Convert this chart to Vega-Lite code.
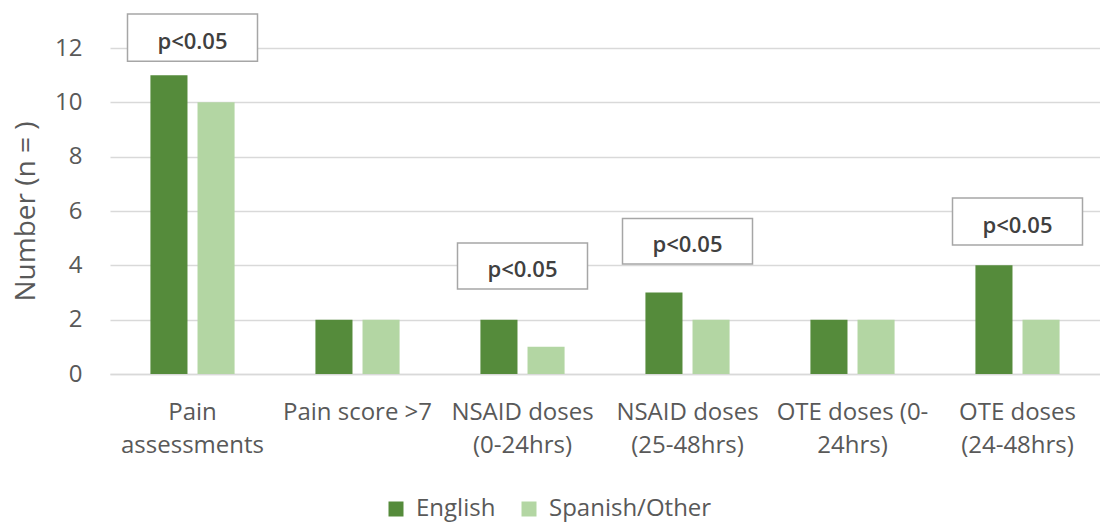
{
  "$schema": "https://vega.github.io/schema/vega-lite/v6.json",
  "width": 990,
  "height": 326,
  "autosize": {"type": "none"},
  "padding": {"left": 110, "top": 48, "right": 0, "bottom": 151},
  "background": "white",
  "config": {
    "font": "Open Sans",
    "view": {"stroke": null},
    "axis": {"labelColor": "#595959", "titleColor": "#595959"}
  },
  "datasets": {
    "bars": [
      {"category": "Pain assessments", "group": "English", "value": 11},
      {"category": "Pain assessments", "group": "Spanish/Other", "value": 10},
      {"category": "Pain score >7", "group": "English", "value": 2},
      {"category": "Pain score >7", "group": "Spanish/Other", "value": 2},
      {"category": "NSAID doses (0-24hrs)", "group": "English", "value": 2},
      {"category": "NSAID doses (0-24hrs)", "group": "Spanish/Other", "value": 1},
      {"category": "NSAID doses (25-48hrs)", "group": "English", "value": 3},
      {"category": "NSAID doses (25-48hrs)", "group": "Spanish/Other", "value": 2},
      {"category": "OTE doses (0-24hrs)", "group": "English", "value": 2},
      {"category": "OTE doses (0-24hrs)", "group": "Spanish/Other", "value": 2},
      {"category": "OTE doses (24-48hrs)", "group": "English", "value": 4},
      {"category": "OTE doses (24-48hrs)", "group": "Spanish/Other", "value": 2}
    ],
    "notes": [
      {"category": "Pain assessments", "label": "p<0.05", "low": 11.51, "high": 13.25, "mid": 12.38},
      {"category": "NSAID doses (0-24hrs)", "label": "p<0.05", "low": 3.13, "high": 4.82, "mid": 3.97},
      {"category": "NSAID doses (25-48hrs)", "label": "p<0.05", "low": 4.05, "high": 5.72, "mid": 4.88},
      {"category": "OTE doses (24-48hrs)", "label": "p<0.05", "low": 4.75, "high": 6.48, "mid": 5.6}
    ]
  },
  "encoding": {
    "x": {
      "field": "category",
      "type": "nominal",
      "sort": null,
      "scale": {
        "domain": ["Pain assessments", "Pain score >7", "NSAID doses (0-24hrs)", "NSAID doses (25-48hrs)", "OTE doses (0-24hrs)", "OTE doses (24-48hrs)"],
        "paddingInner": 0.49,
        "paddingOuter": 0.245
      },
      "axis": {
        "title": null,
        "labelAngle": 0,
        "labelFontSize": 24,
        "labelLineHeight": 33,
        "labelPadding": 38,
        "labelBaseline": "middle",
        "labelLimit": 200,
        "ticks": false,
        "domainColor": "#d9d9d9",
        "domainWidth": 1.5,
        "labelExpr": "datum.label == 'Pain assessments' ? ['Pain', 'assessments'] : datum.label == 'Pain score >7' ? 'Pain score >7' : datum.label == 'NSAID doses (0-24hrs)' ? ['NSAID doses', '(0-24hrs)'] : datum.label == 'NSAID doses (25-48hrs)' ? ['NSAID doses', '(25-48hrs)'] : datum.label == 'OTE doses (0-24hrs)' ? ['OTE doses (0-', '24hrs)'] : ['OTE doses', '(24-48hrs)']"
      }
    }
  },
  "layer": [
    {
      "data": {"name": "bars"},
      "mark": {"type": "bar", "stroke": null},
      "encoding": {
        "xOffset": {
          "field": "group",
          "type": "nominal",
          "scale": {"domain": ["English", "Spanish/Other"], "paddingInner": 0.213, "paddingOuter": 0}
        },
        "y": {
          "field": "value",
          "type": "quantitative",
          "scale": {"domain": [0, 12], "nice": false},
          "axis": {
            "title": "Number (n = )",
            "titleFontSize": 28,
            "titleFontWeight": "normal",
            "titlePadding": 14,
            "values": [0, 2, 4, 6, 8, 10, 12],
            "labelFontSize": 24,
            "labelPadding": 28,
            "ticks": false,
            "domain": false,
            "gridColor": "#d9d9d9",
            "gridWidth": 1.5
          }
        },
        "color": {
          "field": "group",
          "type": "nominal",
          "scale": {"domain": ["English", "Spanish/Other"], "range": ["#558b3b", "#b3d6a3"]},
          "legend": {
            "title": null,
            "orient": "none",
            "legendX": 274,
            "legendY": 449,
            "direction": "horizontal",
            "symbolType": "square",
            "symbolSize": 225,
            "symbolStrokeWidth": 0,
            "labelFontSize": 24,
            "labelLimit": 400,
            "labelColor": "#595959",
            "columnPadding": 21,
            "labelOffset": 8
          }
        }
      }
    },
    {
      "data": {"name": "notes"},
      "mark": {"type": "bar", "width": 130, "fill": "white", "stroke": "#a6a6a6", "strokeWidth": 1.5},
      "encoding": {
        "y": {"field": "low", "type": "quantitative"},
        "y2": {"field": "high"}
      }
    },
    {
      "data": {"name": "notes"},
      "mark": {"type": "text", "fontSize": 22, "fontWeight": 600, "color": "#404040", "dy": 4, "baseline": "middle"},
      "encoding": {
        "y": {"field": "mid", "type": "quantitative"},
        "text": {"field": "label"}
      }
    }
  ]
}
